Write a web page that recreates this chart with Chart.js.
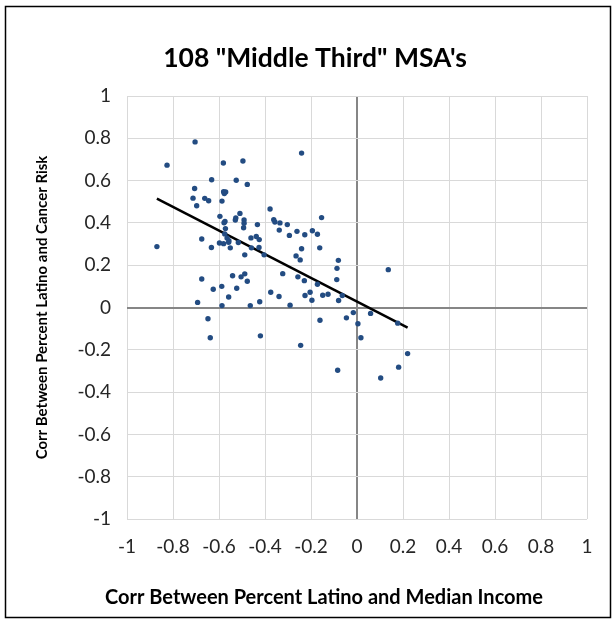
<!DOCTYPE html>
<html>
<head>
<meta charset="utf-8">
<script src="https://cdn.jsdelivr.net/npm/chart.js@4/dist/chart.umd.min.js"></script>
<style>
  html, body { margin: 0; padding: 0; background: #fff; }
  canvas { display: block; }
</style>
</head>
<body>
<canvas id="chart" width="616" height="623"></canvas>
<script>
// correlation with median income (x) vs correlation with cancer risk (y), one point per MSA
const incomeCorr = [
  -0.704, -0.826, -0.581, -0.496, -0.241, -0.632, -0.525, -0.477, -0.706, -0.580,
  -0.571, -0.577, -0.713, -0.662, -0.645, -0.587, -0.697, -0.378, -0.509, -0.596,
  -0.527, -0.529, -0.154, -0.574, -0.578, -0.491, -0.491, -0.493, -0.362, -0.357,
  -0.335, -0.303, -0.433, -0.572, -0.338, -0.261, -0.194, -0.575, -0.294, -0.227,
  -0.172, -0.438, -0.425, -0.461, -0.565, -0.557, -0.675, -0.598, -0.580, -0.516,
  -0.633, -0.551, -0.870, -0.241, -0.162, -0.459, -0.426, -0.488, -0.404, -0.265,
  -0.247, -0.081, -0.087, 0.136, -0.488, -0.504, -0.477, -0.323, -0.257, -0.229,
  -0.088, -0.172, -0.675, -0.625, -0.588, -0.523, -0.558, -0.693, -0.587, -0.648,
  -0.638, -0.375, -0.339, -0.226, -0.204, -0.196, -0.149, -0.126, -0.064, -0.080,
  -0.464, -0.423, -0.291, -0.161, -0.420, -0.245, -0.016, 0.059, -0.046, 0.004,
  0.177, 0.017, 0.220, 0.181, -0.084, 0.103, -0.558, -0.541
];
const cancerCorr = [
  0.783, 0.673, 0.683, 0.693, 0.730, 0.604, 0.602, 0.582, 0.563, 0.547,
  0.546, 0.539, 0.517, 0.516, 0.505, 0.503, 0.481, 0.466, 0.445, 0.431,
  0.423, 0.414, 0.425, 0.407, 0.401, 0.414, 0.398, 0.377, 0.415, 0.404,
  0.400, 0.392, 0.392, 0.373, 0.366, 0.360, 0.363, 0.348, 0.341, 0.344,
  0.346, 0.336, 0.321, 0.329, 0.329, 0.316, 0.324, 0.305, 0.302, 0.307,
  0.284, 0.282, 0.288, 0.278, 0.282, 0.282, 0.284, 0.249, 0.249, 0.244,
  0.225, 0.223, 0.185, 0.179, 0.159, 0.145, 0.124, 0.160, 0.145, 0.127,
  0.132, 0.110, 0.135, 0.086, 0.100, 0.091, 0.050, 0.024, 0.009, -0.053,
  -0.143, 0.072, 0.052, 0.057, 0.072, 0.034, 0.058, 0.063, 0.057, 0.033,
  0.009, 0.027, 0.011, -0.060, -0.134, -0.179, -0.024, -0.028, -0.049, -0.077,
  -0.074, -0.143, -0.218, -0.282, -0.297, -0.333, 0.308, 0.150
];
const axisTicks = [-1, -0.8, -0.6, -0.4, -0.2, 0, 0.2, 0.4, 0.6, 0.8, 1];
const chartTitle = '108 "Middle Third" MSA\'s';
const xTitle = 'Corr Between Percent Latino and Median Income';
const yTitle = 'Corr Between Percent Latino and Cancer Risk';

const points = incomeCorr.map((x, i) => ({ x: x, y: cancerCorr[i] }));

// linear trendline (least squares), drawn over the x range of the data
const n = points.length;
const mx = incomeCorr.reduce((a, b) => a + b, 0) / n;
const my = cancerCorr.reduce((a, b) => a + b, 0) / n;
let sxy = 0, sxx = 0;
points.forEach(p => { sxy += (p.x - mx) * (p.y - my); sxx += (p.x - mx) * (p.x - mx); });
const slope = sxy / sxx;
const icpt = my - slope * mx;
const xMin = Math.min(...incomeCorr), xMax = Math.max(...incomeCorr);
const trend = [{ x: xMin, y: icpt + slope * xMin }, { x: xMax, y: icpt + slope * xMax }];

const FONT = 'Lato, "Open Sans", sans-serif';

// outer frame plus the chart title and x-axis title (placed like the Excel original)
const frame = {
  id: 'frame',
  afterDraw(chart) {
    const ctx = chart.ctx;
    ctx.save();
    ctx.strokeStyle = '#000';
    ctx.lineWidth = 1.5;
    ctx.strokeRect(5.5, 6.5, 605, 611);
    ctx.fillStyle = '#000';
    ctx.textAlign = 'center';
    ctx.textBaseline = 'middle';
    ctx.font = 'bold 26.5px ' + FONT;
    ctx.fillText(chartTitle, 315, 58);
    ctx.font = 'bold 20px ' + FONT;
    ctx.fillText(xTitle, 324, 598);
    ctx.restore();
  }
};

const gridColor = c => (c.tick && c.tick.value === 0) ? '#868686' : '#d9d9d9';
const gridWidth = c => (c.tick && c.tick.value === 0) ? 2 : 1;
const fmt = v => String(Number(v.toFixed(1)));

new Chart(document.getElementById('chart'), {
  type: 'scatter',
  data: {
    datasets: [
      {
        label: 'MSA',
        data: points,
        backgroundColor: '#234C82',
        borderColor: '#234C82',
        pointRadius: 2.7,
        pointBorderWidth: 0,
      },
      {
        label: 'Trend',
        type: 'line',
        data: trend,
        borderColor: '#000',
        borderWidth: 2.5,
        pointRadius: 0,
        fill: false,
      }
    ]
  },
  options: {
    responsive: false,
    animation: false,
    devicePixelRatio: 1,
    layout: { padding: { left: 0, right: 29, top: 96, bottom: 0 } },
    plugins: {
      legend: { display: false },
      tooltip: { enabled: false },
      title: { display: false }
    },
    scales: {
      x: {
        type: 'linear',
        min: -1, max: 1,
        afterBuildTicks: s => { s.ticks = axisTicks.map(v => ({ value: v })); },
        afterFit: s => { s.height = 104; },
        grid: { color: gridColor, lineWidth: gridWidth, drawTicks: false },
        border: { display: false },
        ticks: { color: '#262626', font: { family: FONT, size: 19 }, padding: 16, callback: fmt, maxRotation: 0 }
      },
      y: {
        type: 'linear',
        min: -1, max: 1,
        afterBuildTicks: s => { s.ticks = axisTicks.map(v => ({ value: v })); },
        afterFit: s => { s.width = 127; },
        grid: { color: gridColor, lineWidth: gridWidth, drawTicks: false },
        border: { display: false },
        ticks: { color: '#262626', font: { family: FONT, size: 19 }, padding: 16, callback: fmt },
        title: {
          display: true,
          text: yTitle,
          color: '#000',
          font: { family: FONT, size: 15, weight: 'bold', lineHeight: 1.2 },
          padding: { top: 33, bottom: 0 }
        }
      }
    }
  },
  plugins: [frame]
});
</script>
</body>
</html>
